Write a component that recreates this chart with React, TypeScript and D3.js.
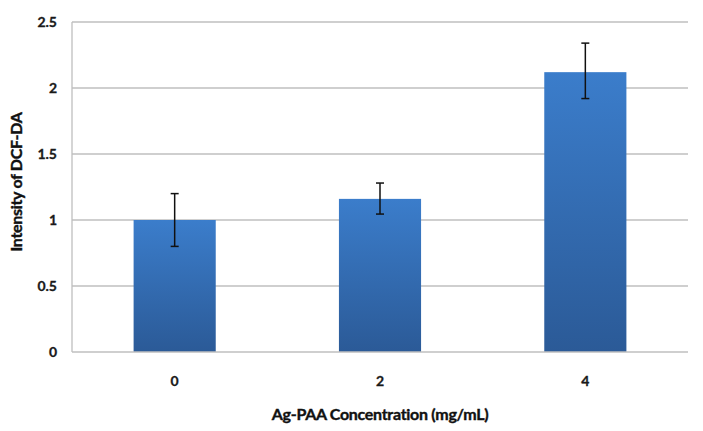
import React from "react";
import * as d3 from "d3";

const categories = ["0", "2", "4"];
const values = [1.0, 1.16, 2.12];
const errLow = [0.8, 1.045, 1.92];
const errHigh = [1.2, 1.28, 2.34];
const yTicks = [0, 0.5, 1, 1.5, 2, 2.5];
const xTitle = "Ag-PAA Concentration (mg/mL)";
const yTitle = "Intensity of DCF-DA";

export default function App() {
  const W = 703, H = 431;
  const left = 72, right = 688, top = 22, bottom = 352;
  const x = d3.scaleBand<string>().domain(categories).range([left, right]).paddingInner(0.6).paddingOuter(0.3);
  const y = d3.scaleLinear().domain([0, 2.5]).range([bottom, top]);
  const font = "Lato, 'Open Sans', sans-serif";
  return (
    <svg width={W} height={H} style={{ position: "absolute", left: 0, top: 0, background: "#fff" }}>
      <defs>
        <linearGradient id="barGrad" x1="0" y1="0" x2="0" y2="1">
          <stop offset="0%" stopColor="#3b7dcb" />
          <stop offset="100%" stopColor="#2b5a97" />
        </linearGradient>
      </defs>
      {yTicks.map((t) => (
        <g key={t}>
          {t > 0 && <line x1={left} x2={right} y1={y(t)} y2={y(t)} stroke="#bfbfbf" strokeWidth={1.3} />}
          <text x={57} y={y(t)} dy="0.35em" textAnchor="end" fontFamily={font} fontWeight="bold" fontSize={14} fill="#1a1a1a" stroke="#1a1a1a" strokeWidth={0.3}>
            {t}
          </text>
        </g>
      ))}
      <line x1={left} x2={left} y1={top} y2={bottom} stroke="#bfbfbf" strokeWidth={1.3} />
      {categories.map((c, i) => {
        const bx = x(c)!;
        const bw = x.bandwidth();
        const cx = bx + bw / 2;
        return (
          <g key={c}>
            <rect x={bx} y={y(values[i])} width={bw} height={bottom - y(values[i])} fill="url(#barGrad)" />
            <line x1={cx} x2={cx} y1={y(errHigh[i])} y2={y(errLow[i])} stroke="#111" strokeWidth={1.5} />
            <line x1={cx - 4} x2={cx + 4} y1={y(errHigh[i])} y2={y(errHigh[i])} stroke="#111" strokeWidth={1.5} />
            <line x1={cx - 4} x2={cx + 4} y1={y(errLow[i])} y2={y(errLow[i])} stroke="#111" strokeWidth={1.5} />
            <text x={cx} y={381} dy="0.35em" textAnchor="middle" fontFamily={font} fontWeight="bold" fontSize={14} fill="#1a1a1a" stroke="#1a1a1a" strokeWidth={0.3}>
              {c}
            </text>
          </g>
        );
      })}
      <line x1={left} x2={right} y1={bottom} y2={bottom} stroke="#bfbfbf" strokeWidth={1.3} />
      <text x={380} y={414} dy="0.35em" textAnchor="middle" fontFamily={font} fontWeight="bold" fontSize={16} fill="#111" stroke="#111" strokeWidth={0.4} letterSpacing={-0.3}>
        {xTitle}
      </text>
      <text transform={`translate(16,182) rotate(-90)`} dy="0.35em" textAnchor="middle" fontFamily={font} fontWeight="bold" fontSize={16} fill="#111" stroke="#111" strokeWidth={0.4} letterSpacing={-0.3}>
        {yTitle}
      </text>
    </svg>
  );
}
